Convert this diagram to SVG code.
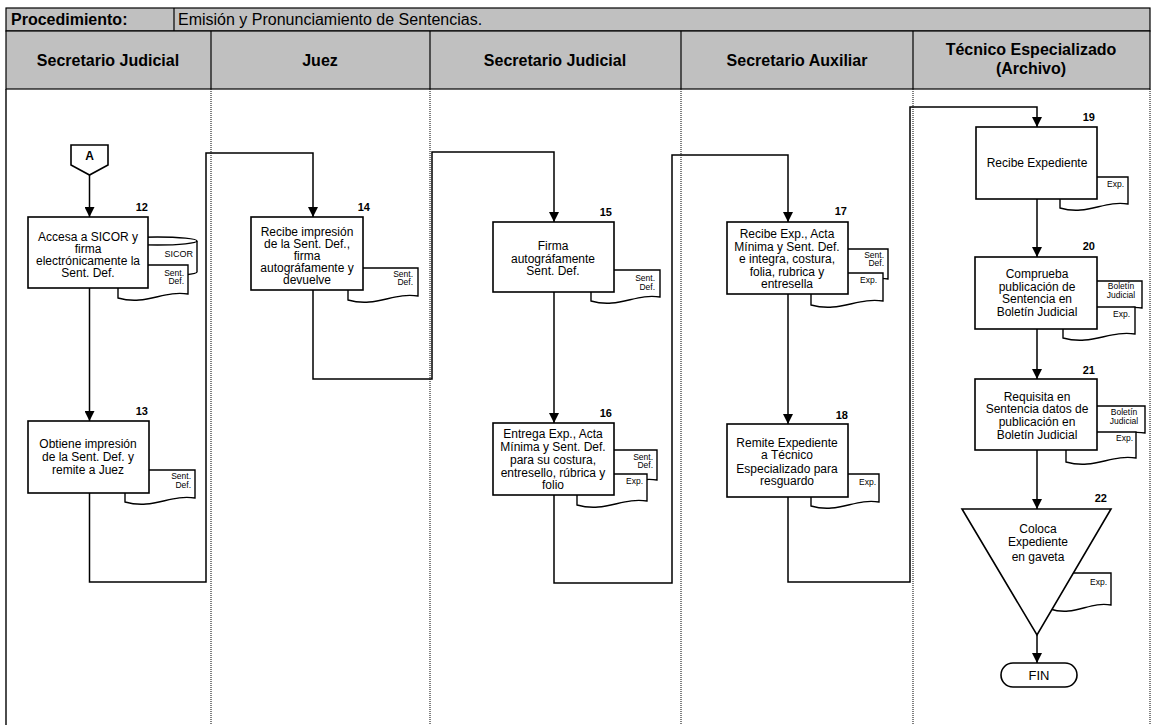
<svg xmlns="http://www.w3.org/2000/svg" width="1153" height="725" viewBox="0 0 1153 725">
  <style>
    .hdr { fill: #c0c0c0; stroke: #000; stroke-width: 1.2; }
    .lane { stroke: #000; stroke-width: 1; stroke-dasharray: 1 1; fill: none; }
    .box { fill: #fff; stroke: #000; stroke-width: 1.6; }
    .doc { fill: #fff; stroke: #000; stroke-width: 1.4; }
    .flow { fill: none; stroke: #000; stroke-width: 1.5; }
    text { font-family: "Liberation Sans", Arial, sans-serif; fill: #000; }
    .title { font-size: 16px; }
    .head { font-size: 16px; font-weight: bold; text-anchor: middle; }
    .t { font-size: 12px; text-anchor: middle; }
    .num { font-size: 11px; font-weight: bold; text-anchor: end; }
    .small { font-size: 8.5px; text-anchor: end; }
    .smallc { font-size: 8.5px; text-anchor: middle; }
  </style>
  <defs>
    <marker id="arrow" viewBox="0 0 10 10" refX="10" refY="5" markerWidth="10" markerHeight="10" markerUnits="userSpaceOnUse" orient="auto">
      <path d="M0,0 L10,5 L0,10 z" fill="#000"/>
    </marker>
  </defs>

  <rect width="1153" height="725" fill="#fff"/>

  <!-- header -->
  <g id="header">
    <rect class="hdr" x="6" y="8" width="1144" height="23"/>
    <line x1="174" y1="8" x2="174" y2="31" stroke="#000" stroke-width="1.2"/>
    <text class="title" x="11" y="25" font-weight="bold">Procedimiento:</text>
    <text class="title" x="178" y="25">Emisión y Pronunciamiento de Sentencias.</text>
    <rect class="hdr" x="6" y="31" width="1144" height="58"/>
    <g stroke="#000" stroke-width="1.2">
      <line x1="211" y1="31" x2="211" y2="89"/>
      <line x1="430" y1="31" x2="430" y2="89"/>
      <line x1="681" y1="31" x2="681" y2="89"/>
      <line x1="913" y1="31" x2="913" y2="89"/>
    </g>
    <text class="head" x="108" y="66">Secretario Judicial</text>
    <text class="head" x="320" y="66">Juez</text>
    <text class="head" x="555" y="66">Secretario Judicial</text>
    <text class="head" x="797" y="66">Secretario Auxiliar</text>
    <text class="head" x="1031" y="55">Técnico Especializado</text>
    <text class="head" x="1031" y="74">(Archivo)</text>
  </g>

  <!-- lane frame -->
  <g id="lanes">
    <line x1="6" y1="89" x2="6" y2="725" stroke="#000" stroke-width="1.4"/>
    <line class="lane" x1="211" y1="89" x2="211" y2="725"/>
    <line class="lane" x1="430" y1="89" x2="430" y2="725"/>
    <line class="lane" x1="681" y1="89" x2="681" y2="725"/>
    <line class="lane" x1="913" y1="89" x2="913" y2="725"/>
    <line class="lane" x1="1150" y1="89" x2="1150" y2="725"/>
  </g>

  <!-- connectors -->
  <g id="connectors" class="flow" marker-end="url(#arrow)">
    <path d="M89.5,175 V217"/>
    <path d="M89.5,288 V421"/>
    <path d="M89.5,493 V582 H206 V153 H313 V217"/>
    <path d="M313,290 V379 H432 V152 H554 V222"/>
    <path d="M554,292 V423"/>
    <path d="M554,495 V583 H672 V155 H788 V222"/>
    <path d="M788,294 V424"/>
    <path d="M788,497 V582 H910 V107 H1037 V127"/>
    <path d="M1037,199 V257"/>
    <path d="M1037,329 V379"/>
    <path d="M1037,450 V509"/>
    <path d="M1037,635 V663"/>
  </g>

  <!-- off-page connector A -->
  <g id="nodeA">
    <polygon class="box" points="71,145 108,145 108,165 89.5,175 71,165"/>
    <text x="89.5" y="160" font-size="12" font-weight="bold" text-anchor="middle">A</text>
  </g>

  <!-- 12 -->
  <g id="node12">
    <path class="doc" d="M118,241 V272 A39.5,4 0 0 0 197,272 V241"/>
    <ellipse class="doc" cx="157.5" cy="241" rx="39.5" ry="4"/>
    <text x="193" y="257" font-size="9" text-anchor="end">SICOR</text>
    <path class="doc" d="M118,265 H188 V294 C163.5,290 146,306 118,298 Z"/>
    <text class="small" x="184" y="276">Sent.</text>
    <text class="small" x="184" y="284">Def.</text>
    <rect class="box" x="28" y="217" width="120" height="71"/>
    <text class="num" x="148" y="211">12</text>
    <text class="t" x="88" y="241">Accesa a SICOR y</text>
    <text class="t" x="88" y="253">firma</text>
    <text class="t" x="88" y="265">electrónicamente la</text>
    <text class="t" x="88" y="277">Sent. Def.</text>
  </g>

  <!-- 13 -->
  <g id="node13">
    <path class="doc" d="M125,470 H195 V498 C170.5,494 153,510 125,502 Z"/>
    <text class="small" x="191" y="479">Sent.</text>
    <text class="small" x="191" y="488">Def.</text>
    <rect class="box" x="28" y="421" width="121" height="72"/>
    <text class="num" x="148" y="415">13</text>
    <text class="t" x="88" y="448">Obtiene impresión</text>
    <text class="t" x="88" y="461">de la Sent. Def. y</text>
    <text class="t" x="88" y="474">remite a Juez</text>
  </g>

  <!-- 14 -->
  <g id="node14">
    <path class="doc" d="M348,268 H418 V296 C393.5,292 376,308 348,300 Z"/>
    <text class="small" x="413" y="277">Sent.</text>
    <text class="small" x="413" y="285">Def.</text>
    <rect class="box" x="251" y="217" width="112" height="73"/>
    <text class="num" x="370" y="211">14</text>
    <text class="t" x="307" y="236">Recibe impresión</text>
    <text class="t" x="307" y="248">de la Sent. Def.,</text>
    <text class="t" x="307" y="260">firma</text>
    <text class="t" x="307" y="272">autográfamente y</text>
    <text class="t" x="307" y="284">devuelve</text>
  </g>

  <!-- 15 -->
  <g id="node15">
    <path class="doc" d="M591,270 H660 V297 C635.8,293 618.6,309 591,301 Z"/>
    <text class="small" x="655" y="281">Sent.</text>
    <text class="small" x="655" y="290">Def.</text>
    <rect class="box" x="493" y="222" width="121" height="70"/>
    <text class="num" x="612" y="216">15</text>
    <text class="t" x="553" y="250">Firma</text>
    <text class="t" x="553" y="263">autográfamente</text>
    <text class="t" x="553" y="275">Sent. Def.</text>
  </g>

  <!-- 16 -->
  <g id="node16">
    <path class="doc" d="M590,450 H657 V480 C633.5,476 616.8,492 590,484 Z"/>
    <text class="small" x="653" y="460">Sent.</text>
    <text class="small" x="653" y="468">Def.</text>
    <path class="doc" d="M577,474 H647 V501 C622.5,497 605,513 577,505 Z"/>
    <text class="small" x="643" y="484">Exp.</text>
    <rect class="box" x="493" y="423" width="121" height="72"/>
    <text class="num" x="612" y="417">16</text>
    <text class="t" x="553" y="438">Entrega Exp., Acta</text>
    <text class="t" x="553" y="451">Mínima y Sent. Def.</text>
    <text class="t" x="553" y="464">para su costura,</text>
    <text class="t" x="553" y="477">entresello, rúbrica y</text>
    <text class="t" x="553" y="489">folio</text>
  </g>

  <!-- 17 -->
  <g id="node17">
    <path class="doc" d="M830,249 H888 V279 C867.7,275 853.2,291 830,283 Z"/>
    <text class="small" x="884" y="258">Sent.</text>
    <text class="small" x="884" y="266">Def.</text>
    <path class="doc" d="M811,273 H883 V301 C857.8,297 839.8,313 811,305 Z"/>
    <text class="small" x="877" y="283">Exp.</text>
    <rect class="box" x="727" y="222" width="121" height="72"/>
    <text class="num" x="847" y="215">17</text>
    <text class="t" x="787" y="238">Recibe Exp., Acta</text>
    <text class="t" x="787" y="251">Mínima y Sent. Def.</text>
    <text class="t" x="787" y="263">e integra, costura,</text>
    <text class="t" x="787" y="276">folia, rubrica y</text>
    <text class="t" x="787" y="288">entresella</text>
  </g>

  <!-- 18 -->
  <g id="node18">
    <path class="doc" d="M811,474 H879 V502 C855.2,498 838.2,514 811,506 Z"/>
    <text class="small" x="876" y="485">Exp.</text>
    <rect class="box" x="727" y="424" width="121" height="73"/>
    <text class="num" x="848" y="419">18</text>
    <text class="t" x="787" y="447">Remite Expediente</text>
    <text class="t" x="787" y="459">a Técnico</text>
    <text class="t" x="787" y="473">Especializado  para</text>
    <text class="t" x="787" y="485">resguardo</text>
  </g>

  <!-- 19 -->
  <g id="node19">
    <path class="doc" d="M1060,177 H1128 V204 C1104.2,200 1087.2,216 1060,208 Z"/>
    <text class="small" x="1124" y="187">Exp.</text>
    <rect class="box" x="976" y="127" width="121" height="72"/>
    <text class="num" x="1095" y="121">19</text>
    <text class="t" x="1037" y="167">Recibe Expediente</text>
  </g>

  <!-- 20 -->
  <g id="node20">
    <path class="doc" d="M1075,281 H1142 V308 C1118.5,304 1101.8,320 1075,312 Z"/>
    <text class="smallc" x="1121" y="289">Boletín</text>
    <text class="smallc" x="1121" y="298">Judicial</text>
    <path class="doc" d="M1063,307 H1135 V334 C1109.8,330 1091.8,346 1063,338 Z"/>
    <text class="small" x="1130" y="317">Exp.</text>
    <rect class="box" x="975" y="257" width="122" height="72"/>
    <text class="num" x="1095" y="250">20</text>
    <text class="t" x="1037" y="278">Comprueba</text>
    <text class="t" x="1037" y="291">publicación de</text>
    <text class="t" x="1037" y="303">Sentencia en</text>
    <text class="t" x="1037" y="316">Boletín Judicial</text>
  </g>

  <!-- 21 -->
  <g id="node21">
    <path class="doc" d="M1078,406 H1145 V433 C1121.5,429 1104.8,445 1078,437 Z"/>
    <text class="smallc" x="1124" y="415">Boletín</text>
    <text class="smallc" x="1124" y="424">Judicial</text>
    <path class="doc" d="M1066,432 H1136 V458 C1111.5,454 1094,470 1066,462 Z"/>
    <text class="small" x="1133" y="441">Exp.</text>
    <rect class="box" x="975" y="379" width="122" height="71"/>
    <text class="num" x="1095" y="374">21</text>
    <text class="t" x="1037" y="401">Requisita  en</text>
    <text class="t" x="1037" y="413">Sentencia datos de</text>
    <text class="t" x="1037" y="426">publicación en</text>
    <text class="t" x="1037" y="439">Boletín  Judicial</text>
  </g>

  <!-- 22 -->
  <g id="node22">
    <path class="doc" d="M1050,573 H1111 V605 C1089.6,601 1074.4,617 1050,609 Z"/>
    <text class="small" x="1107" y="585">Exp.</text>
    <polygon class="box" points="962,509 1111,509 1037,635"/>
    <text class="num" x="1107" y="502">22</text>
    <text class="t" x="1038" y="533">Coloca</text>
    <text class="t" x="1038" y="546">Expediente</text>
    <text class="t" x="1038" y="561">en gaveta</text>
  </g>

  <!-- end terminator -->
  <g id="nodeFIN">
    <rect class="box" x="1001" y="663" width="76" height="24" rx="12" ry="12"/>
    <text x="1039" y="680" font-size="13" text-anchor="middle">FIN</text>
  </g>
</svg>
